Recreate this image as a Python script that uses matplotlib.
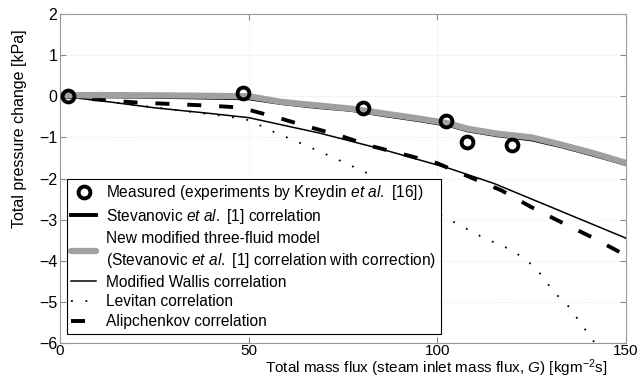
import numpy as np
import matplotlib.pyplot as plt

plt.rcParams['font.family'] = ['Liberation Sans', 'DejaVu Sans']
plt.rcParams['mathtext.fontset'] = 'custom'
plt.rcParams['mathtext.rm'] = 'Liberation Sans'
plt.rcParams['mathtext.it'] = 'Liberation Sans:italic'
plt.rcParams['font.size'] = 11.5

# measured points
measX = [2, 48.5, 80.3, 102.3, 108, 119.8]
measY = [0.0, 0.08, -0.28, -0.6, -1.12, -1.19]

# new modified three-fluid model (gray)
newX = [0, 10, 30, 50, 59, 68, 77, 86, 95, 103, 108, 116, 125, 133, 142, 150]
newY = [0.02, 0.03, 0.02, 0.0, -0.14, -0.22, -0.3, -0.42, -0.54, -0.66, -0.79, -0.91, -1.0, -1.18, -1.4, -1.62]

# Stevanovic et al. correlation (mostly hidden under the gray line)
stevX = [0, 10, 30, 50, 59, 68, 77, 86, 95, 103, 108, 116, 125, 133, 142, 150]
stevY = [0.0, 0.0, -0.02, -0.05, -0.17, -0.26, -0.33, -0.46, -0.58, -0.7, -0.83, -0.95, -1.05, -1.22, -1.44, -1.65]

# modified Wallis
wallX = [0, 10, 25, 40, 50, 69, 85, 103, 115, 125, 150]
wallY = [0.0, -0.1, -0.28, -0.42, -0.52, -0.9, -1.28, -1.75, -2.12, -2.5, -3.45]

# Levitan
levX = [0, 10, 25, 35, 45, 50, 57, 64, 70, 81, 92, 105, 112, 120, 126, 131, 135, 138, 141.3, 142]
levY = [0.0, -0.1, -0.27, -0.38, -0.5, -0.58, -0.88, -1.15, -1.39, -1.85, -2.45, -3.09, -3.43, -3.75, -4.16, -4.77, -5.13, -5.52, -5.94, -6.05]

# Alipchenkov
aliX = [0, 10, 20, 30, 40, 47, 50, 57, 65, 74, 82, 91, 100, 117, 125, 133, 141, 150]
aliY = [0.0, -0.08, -0.15, -0.19, -0.23, -0.27, -0.33, -0.5, -0.72, -0.95, -1.2, -1.41, -1.63, -2.29, -2.7, -3.07, -3.43, -3.87]

fig = plt.figure(figsize=(6.42, 3.79), dpi=100)
ax = fig.add_axes([0.0935, 0.095, 0.8815, 0.868])

ax.plot(measX, measY, 'o', mfc='none', mec='black', mew=2.8, ms=8.5, zorder=6,
        label='Measured (experiments by Kreydin $\\mathit{et\\ al.}$ [16])')
ax.plot(stevX, stevY, color='black', lw=2.8, zorder=3,
        label='Stevanovic $\\mathit{et\\ al.}$ [1] correlation')
ax.plot(newX, newY, color='#a0a0a0', lw=4.5, zorder=4, solid_capstyle='round',
        label='New modified three-fluid model\n(Stevanovic $\\mathit{et\\ al.}$ [1] correlation with correction)')
ax.plot(wallX, wallY, color='black', lw=1.1, zorder=3, label='Modified Wallis correlation')
ax.plot(levX, levY, color='black', lw=1.3, ls=(0, (1, 7)), zorder=3, label='Levitan correlation')
ax.plot(aliX, aliY, color='black', lw=2.8, ls=(0, (3.6, 4.6)), zorder=3, label='Alipchenkov correlation')

ax.set_xlim(0, 150)
ax.set_ylim(-6, 2)
ax.set_xticks([0, 50, 100, 150])
ax.set_yticks(np.arange(-6, 3, 1))
ax.grid(True, color='#e4e4e4', ls=':', lw=0.7)
ax.tick_params(direction='in', top=True, right=True, length=4, color='#888888', pad=2)
ax.tick_params(axis='x', pad=0.5, labelsize=11)
for s in ax.spines.values():
    s.set_color('#999999')

ax.set_xlabel('Total mass flux (steam inlet mass flux, $\\mathit{G}$) [kgm$^{-2}$s]', fontsize=11)
ax.xaxis.set_label_coords(0.664, -0.044)
ax.set_ylabel('Total pressure change [kPa]')
ax.yaxis.set_label_coords(-0.058, 0.65)

leg = ax.legend(loc='lower left', bbox_to_anchor=(0.012, 0.028), fancybox=False, framealpha=1,
                edgecolor='black', handlelength=1.6, handletextpad=0.6, borderpad=0.3,
                labelspacing=0.3, borderaxespad=0, fontsize=11.2)
leg.get_frame().set_linewidth(0.8)
leg.get_texts()[2].set_linespacing(1.4)

plt.savefig('out.png', dpi=100)
